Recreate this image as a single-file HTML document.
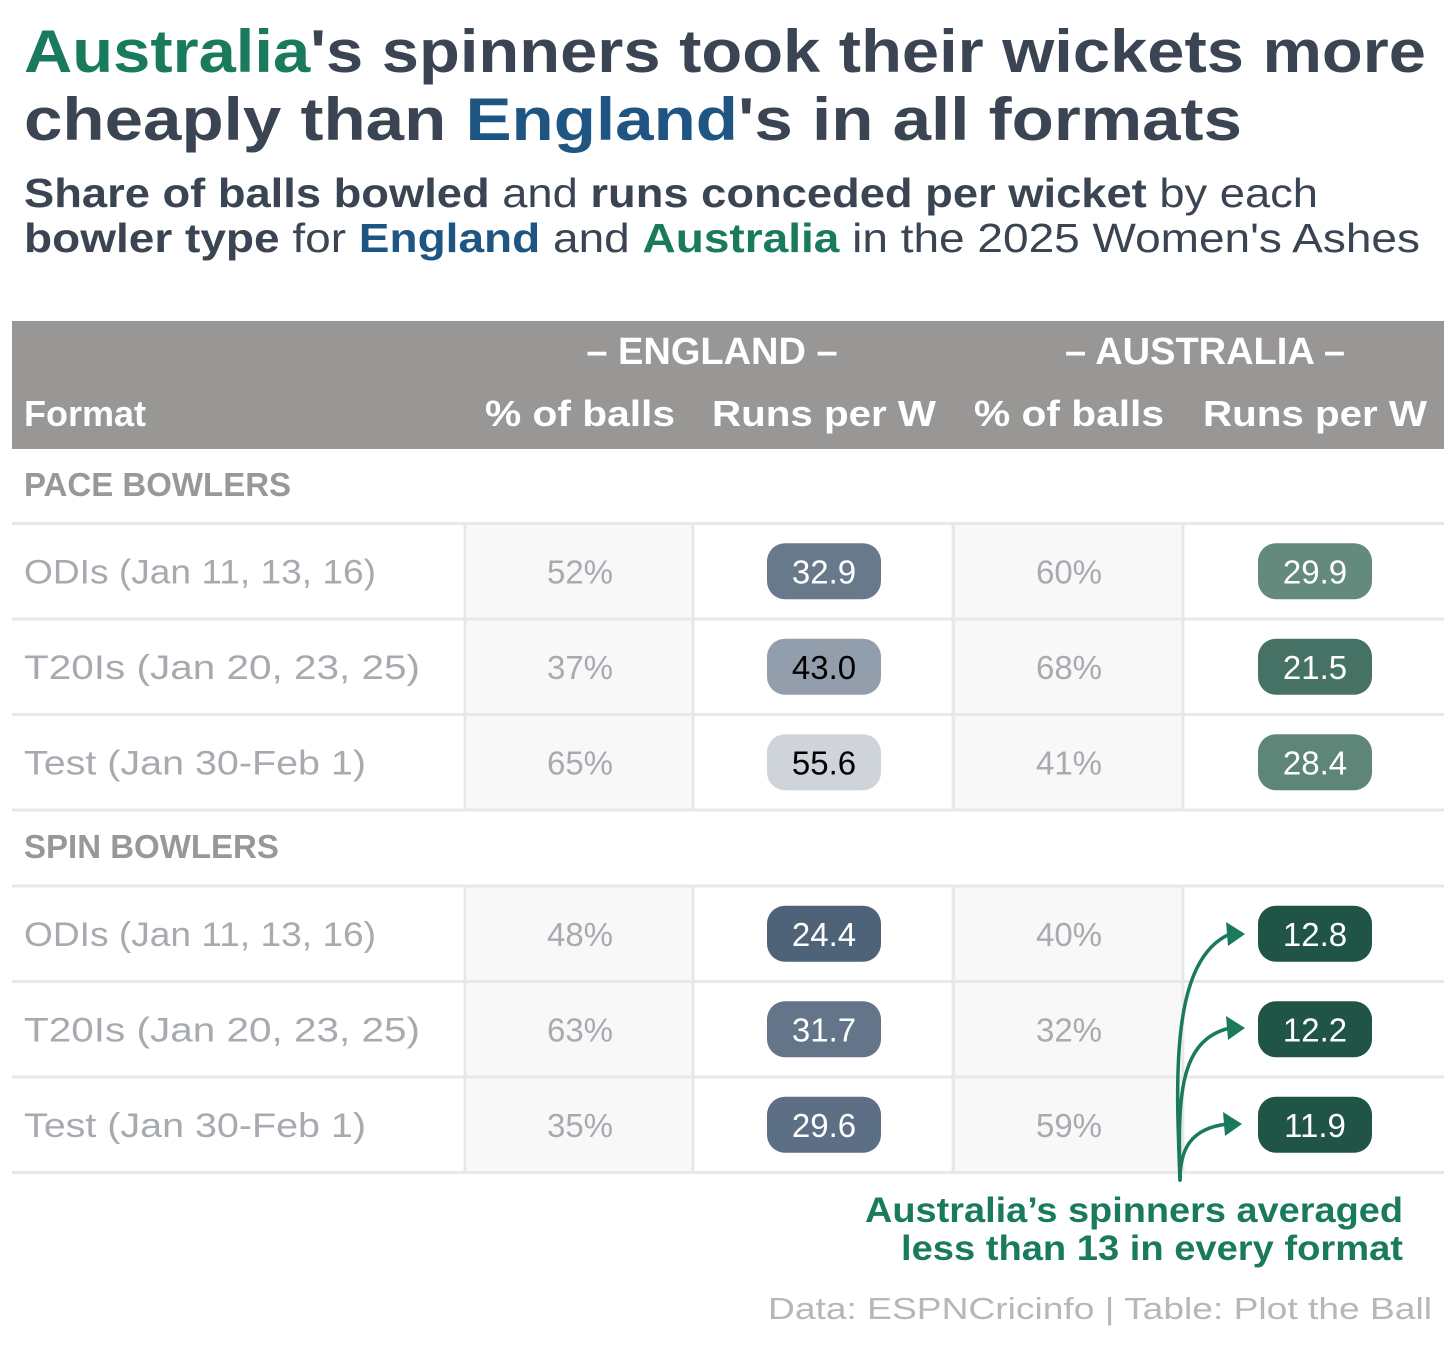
<!DOCTYPE html>
<html><head><meta charset="utf-8"><style>
html,body{margin:0;padding:0;background:#fff;}
svg{display:block;font-family:"Liberation Sans",sans-serif;}
</style></head><body>
<svg id="chart" width="1456" height="1349" viewBox="0 0 1456 1349" xmlns="http://www.w3.org/2000/svg">
<rect width="1456" height="1349" fill="#fff"/>
<text x="24" y="72" font-size="60" font-weight="bold" fill="#3a4452" textLength="1402" lengthAdjust="spacingAndGlyphs"><tspan fill="#1a7a5e">Australia</tspan>'s spinners took their wickets more</text>
<text x="24" y="140" font-size="60" font-weight="bold" fill="#3a4452" textLength="1218" lengthAdjust="spacingAndGlyphs">cheaply than <tspan fill="#1f5582">England</tspan>'s in all formats</text>
<text x="24" y="207" font-size="41" fill="#3a4452" textLength="1294" lengthAdjust="spacingAndGlyphs"><tspan font-weight="bold">Share of balls bowled</tspan> and <tspan font-weight="bold">runs conceded per wicket</tspan> by each</text>
<text x="24" y="252" font-size="41" fill="#3a4452" textLength="1396" lengthAdjust="spacingAndGlyphs"><tspan font-weight="bold">bowler type</tspan> for <tspan font-weight="bold" fill="#1f5582">England</tspan> and <tspan font-weight="bold" fill="#1a7a5e">Australia</tspan> in the 2025 Women's Ashes</text>

<rect x="12" y="321" width="1432" height="128" fill="#989795"/>
<text x="712" y="364" font-size="38" font-weight="bold" fill="#fff" text-anchor="middle">– ENGLAND –</text>
<text x="1205" y="364" font-size="38" font-weight="bold" fill="#fff" text-anchor="middle">– AUSTRALIA –</text>
<text x="24" y="426" font-size="36" font-weight="bold" fill="#fff">Format</text>
<text x="580" y="426" font-size="36" font-weight="bold" fill="#fff" text-anchor="middle" textLength="190" lengthAdjust="spacingAndGlyphs">% of balls</text>
<text x="824" y="426" font-size="36" font-weight="bold" fill="#fff" text-anchor="middle" textLength="224" lengthAdjust="spacingAndGlyphs">Runs per W</text>
<text x="1069" y="426" font-size="36" font-weight="bold" fill="#fff" text-anchor="middle" textLength="190" lengthAdjust="spacingAndGlyphs">% of balls</text>
<text x="1315" y="426" font-size="36" font-weight="bold" fill="#fff" text-anchor="middle" textLength="224" lengthAdjust="spacingAndGlyphs">Runs per W</text>
<g id="body"></g>
<g fill="none" stroke="#1a7a5e" stroke-width="3.5" stroke-linecap="round">
<path d="M1180,1180 C1176,1080 1170,960 1230,934"/>
<path d="M1180,1180 C1178,1100 1178,1040 1230,1028"/>
<path d="M1180,1180 C1180,1150 1190,1128 1228,1124"/>
</g>
<g fill="#1a7a5e">
<polygon points="1245,934 1226,922 1228,946"/>
<polygon points="1245,1028 1226,1016 1228,1040"/>
<polygon points="1242,1124 1223,1112 1225,1136"/>
</g>
<text x="1403" y="1222" font-size="35" font-weight="bold" fill="#1a7a5e" text-anchor="end" textLength="538" lengthAdjust="spacingAndGlyphs">Australia’s spinners averaged</text>
<text x="1403" y="1260" font-size="35" font-weight="bold" fill="#1a7a5e" text-anchor="end" textLength="502" lengthAdjust="spacingAndGlyphs">less than 13 in every format</text>
<text x="1432" y="1319" font-size="31" fill="#b5b7ba" text-anchor="end" textLength="664" lengthAdjust="spacingAndGlyphs">Data: ESPNCricinfo | Table: Plot the Ball</text>
</svg>
<script>
const formats = ["ODIs (Jan 11, 13, 16)", "T20Is (Jan 20, 23, 25)", "Test (Jan 30-Feb 1)"];
const paceEngBalls = [52, 37, 65];
const paceEngRuns = [32.9, 43.0, 55.6];
const paceAusBalls = [60, 68, 41];
const paceAusRuns = [29.9, 21.5, 28.4];
const spinEngBalls = [48, 63, 35];
const spinEngRuns = [24.4, 31.7, 29.6];
const spinAusBalls = [40, 32, 59];
const spinAusRuns = [12.8, 12.2, 11.9];

const NS = "http://www.w3.org/2000/svg";
const body = document.getElementById("body");
function mk(tag, attrs, parent) {
  const e = document.createElementNS(NS, tag);
  for (const k in attrs) e.setAttribute(k, attrs[k]);
  (parent || body).appendChild(e);
  return e;
}
function lerp(a, b, t) { return Math.round(a + (b - a) * t); }
function mix(c1, c2, t) {
  return "rgb(" + lerp(c1[0], c2[0], t) + "," + lerp(c1[1], c2[1], t) + "," + lerp(c1[2], c2[2], t) + ")";
}
function engColor(v) {
  const t = Math.max(0, Math.min(1, (v - 22) / 36));
  return mix([74, 94, 117], [220, 223, 227], Math.pow(t, 1.3));
}
function ausColor(v) {
  const t = Math.max(0, Math.min(1, (v - 11) / 20));
  if (v < 15) return "rgb(31,84,70)";
  return mix([31, 84, 70], [103, 141, 127], t);
}
const colX = [24, 580, 824, 1069, 1315];
function section(label, labelY, top, eb, er, ab, ar, key) {
  const t = mk("text", {x: 24, y: labelY, "font-size": 33, "font-weight": "bold", fill: "#98989a"});
  
  
  t.textContent = label;
  const rowH = 95.5;
  const shade1 = mk("rect", {x: 467, y: top, width: 226, height: rowH * 3, fill: "#f8f8f8"});
  
  
  const shade2 = mk("rect", {x: 956, y: top, width: 227, height: rowH * 3, fill: "#f8f8f8"});
  
  
  for (let i = 0; i <= 3; i++) {
    const l = mk("rect", {x: 12, y: top + i * rowH - 1.5, width: 1432, height: 3, fill: "#e8e8e8"});
    
    
  }
  [465, 693, 953, 1183].forEach(function (x, j) {
    const v = mk("rect", {x: x - 1.5, y: top, width: j === 2 ? 4 : 3, height: rowH * 3, fill: "#e8e8e8"});
    
    
  });
  for (let i = 0; i < formats.length; i++) {
    const cy = top + i * rowH + rowH / 2;
    const ft = mk("text", {x: colX[0], y: cy + 12, "font-size": 34, fill: "#a7abb0", textLength: i === 1 ? 396 : (i === 0 ? 352 : 342), lengthAdjust: "spacingAndGlyphs"});
    
    
    ft.textContent = formats[i];
    [[eb, 1], [ab, 3]].forEach(function (p) {
      const bt = mk("text", {x: colX[p[1]], y: cy + 12, "font-size": 33, fill: "#a7abb0", "text-anchor": "middle"});
      
      
      bt.textContent = p[0][i] + "%";
    });
    [[er, 2, engColor], [ar, 4, ausColor]].forEach(function (p) {
      const v = p[0][i];
      const fill = p[2](v);
      const pill = mk("rect", {x: colX[p[1]] - 57, y: cy - 28, width: 114, height: 56, rx: 18, fill: fill});
      
      
      const dark = p[1] === 2 && v > 38;
      const rt = mk("text", {x: colX[p[1]], y: cy + 12, "font-size": 33, fill: dark ? "#000" : "#fff", "text-anchor": "middle"});
      
      
      rt.textContent = v.toFixed(1);
    });
  }
}
section("PACE BOWLERS", 496, 523.5, paceEngBalls, paceEngRuns, paceAusBalls, paceAusRuns, "pace");
section("SPIN BOWLERS", 858, 886, spinEngBalls, spinEngRuns, spinAusBalls, spinAusRuns, "spin");
</script>
</body></html>
